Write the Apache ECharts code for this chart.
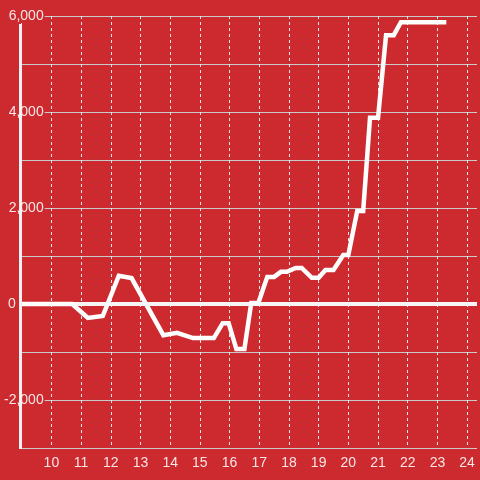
<!DOCTYPE html>
<html>
<head>
<meta charset="utf-8">
<script src="https://cdn.jsdelivr.net/npm/echarts@6/dist/echarts.min.js"></script>
<style>
  html, body { margin: 0; padding: 0; background: #cc2a2f; }
  #chart { width: 480px; height: 480px; }
</style>
</head>
<body>
<div id="chart"></div>
<script>
// hour of day -> value
const hours = [9.0, 10.7, 11.23, 11.73, 12.27, 12.7, 13.77, 14.23, 14.77, 15.47, 15.77, 15.97,
  16.23, 16.5, 16.73, 16.97, 17.27, 17.5, 17.73, 17.93, 18.23, 18.43, 18.77, 19.0, 19.23, 19.5,
  19.83, 20.0, 20.3, 20.5, 20.73, 21.0, 21.27, 21.53, 21.77, 23.3];
const values = [0, 0, -290, -250, 590, 540, -650, -600, -710, -710, -400, -400,
  -940, -940, 20, 20, 565, 565, 670, 670, 750, 750, 545, 545, 710, 710,
  1020, 1020, 1940, 1940, 3880, 3880, 5600, 5600, 5870, 5870];
const yLabels = [-2000, 0, 2000, 4000, 6000];

const bg = '#cc2a2f';
const labelColor = 'rgba(255,255,255,0.88)';

const chart = echarts.init(document.getElementById('chart'));

const data = hours.map((h, i) => [h, values[i]]);

chart.setOption({
  backgroundColor: bg,
  animation: false,
  grid: { left: 20, right: 0, top: 16, bottom: 32 },
  xAxis: {
    type: 'value',
    min: 9,
    max: 24.333,
    interval: 1,
    axisLine: { show: false },
    axisTick: { show: false },
    axisLabel: {
      color: labelColor,
      fontSize: 14,
      fontFamily: 'Liberation Sans',
      margin: 8,
      formatter: v => (Number.isInteger(v) && v > 9) ? String(v) : ''
    },
    splitLine: {
      show: true,
      showMaxLine: false,
      lineStyle: { color: '#e8e8e8', type: [3, 3], width: 1 }
    }
  },
  yAxis: {
    type: 'value',
    min: -3000,
    max: 6000,
    interval: 1000,
    axisLine: { show: false },
    axisTick: { show: false },
    axisLabel: {
      color: labelColor,
      fontSize: 14,
      fontFamily: 'Liberation Sans',
      margin: -23,
      align: 'right',
      backgroundColor: bg,
      padding: [0, 1],
      formatter: v => {
        if (yLabels.indexOf(v) < 0) return '';
        if (v === 0) return '{z|0}';
        return v.toLocaleString('en-US');
      },
      rich: {
        z: { color: labelColor, fontSize: 14, fontFamily: 'Liberation Sans', padding: [0, 28, 0, 0] }
      }
    },
    splitLine: { show: true, lineStyle: { color: '#c9c9c9', width: 1 } }
  },
  graphic: [{
    type: 'rect',
    z: 10,
    shape: { x: 19, y: 24, width: 3, height: 425 },
    style: { fill: '#f2f2f2' }
  }],
  series: [{
    type: 'line',
    data: data,
    showSymbol: false,
    lineStyle: { color: '#ffffff', width: 4.5, join: 'miter' },
    z: 5,
    markLine: {
      silent: true,
      symbol: 'none',
      label: { show: false },
      lineStyle: { color: '#f5f5f5', width: 4, type: 'solid' },
      data: [{ yAxis: 0 }]
    }
  }]
});
</script>
</body>
</html>
